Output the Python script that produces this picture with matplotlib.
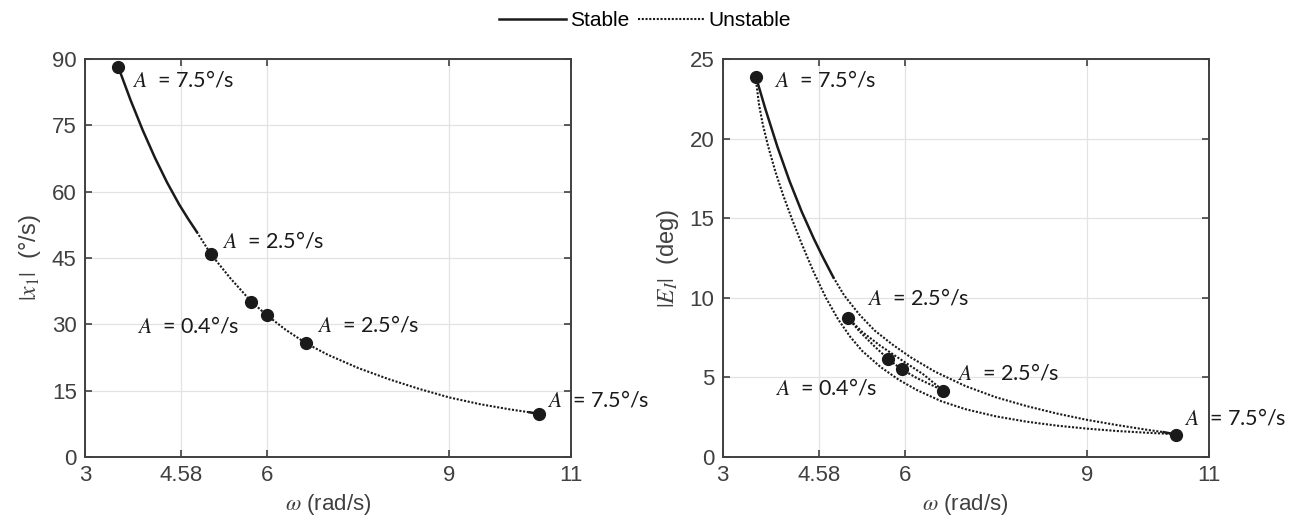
import matplotlib
matplotlib.use("Agg")
import matplotlib.pyplot as plt
from matplotlib.lines import Line2D

plt.rcParams['font.family'] = ['Liberation Sans', 'DejaVu Sans']
plt.rcParams['mathtext.fontset'] = 'stix'

# ---------------- data ----------------
# left panel: |x1| vs omega
w_x1_stable = [3.55, 3.75, 3.95, 4.15, 4.35, 4.55, 4.7, 4.84]
x1_stable = [88.1, 80.7, 73.9, 67.7, 62.1, 57.1, 53.8, 50.9]
w_x1_unstable = [4.84, 5.07, 5.4, 5.74, 5.99, 6.3, 6.64, 7.0, 7.5, 8.0, 8.5, 9.0, 9.5, 10.0, 10.32]
x1_unstable = [50.9, 45.9, 40.3, 35.1, 32.1, 28.8, 25.7, 23.1, 20.1, 17.6, 15.4, 13.45, 11.95, 10.75, 10.1]
w_x1_stable_end = [10.32, 10.47]
x1_stable_end = [10.1, 9.75]
w_x1_pts = [3.55, 5.07, 5.74, 5.99, 6.64, 10.47]
x1_pts = [88.1, 45.9, 35.1, 32.1, 25.7, 9.75]

# right panel: |E_I| vs omega
w_eu_stable = [3.55, 3.7, 3.9, 4.1, 4.3, 4.5, 4.65, 4.82]
eu_stable = [23.85, 21.9, 19.5, 17.34, 15.42, 13.72, 12.55, 11.3]
w_eu_unstable = [4.82, 5.0, 5.25, 5.5, 5.8, 6.1, 6.5, 7.0, 7.5, 8.0, 8.5, 9.0, 9.5, 10.0, 10.26]
eu_unstable = [11.3, 10.15, 8.95, 7.95, 7.05, 6.25, 5.35, 4.45, 3.75, 3.2, 2.73, 2.33, 2.0, 1.7, 1.56]
w_eu_stable_end = [10.26, 10.47]
eu_stable_end = [1.56, 1.41]
w_el = [3.55, 3.56, 3.6, 3.66, 3.75, 3.87, 4.0, 4.15, 4.3, 4.5, 4.7, 4.9, 5.1, 5.3, 5.6, 5.9,
        6.2, 6.6, 7.0, 7.5, 8.0, 8.5, 9.0, 9.5, 10.0, 10.26, 10.47]
el = [23.85, 23.3, 22.1, 20.9, 19.5, 17.9, 16.4, 14.85, 13.4, 11.6, 10.0, 8.65, 7.55, 6.65, 5.65, 4.85,
      4.2, 3.5, 3.0, 2.55, 2.22, 1.97, 1.78, 1.63, 1.52, 1.47, 1.41]
w_emu = [5.06, 5.3, 5.59, 5.98, 6.3, 6.63]
emu = [8.75, 7.85, 7.0, 6.0, 5.2, 4.17]
w_eml = [5.06, 5.25, 5.5, 5.73, 5.95, 6.2, 6.45, 6.63]
eml = [8.75, 7.9, 6.95, 6.13, 5.5, 4.95, 4.5, 4.17]
w_e_pts = [3.55, 5.06, 5.73, 5.95, 6.63, 10.47]
e_pts = [23.85, 8.75, 6.13, 5.5, 4.17, 1.41]

x_ticks = [3, 4.58, 6, 9, 11]
x_tick_labels = ['3', '4.58', '6', '9', '11']
y_ticks_left = [0, 15, 30, 45, 60, 75, 90]
y_ticks_right = [0, 5, 10, 15, 20, 25]

labels_left = [(3.78, 85.3, '7.5'), (5.25, 48.9, '2.5'), (3.85, 29.7, '0.4'),
               (6.82, 29.9, '2.5'), (10.61, 12.9, '7.5')]
labels_right = [(3.84, 23.7, '7.5'), (5.37, 10.0, '2.5'), (3.86, 4.35, '0.4'),
                (6.86, 5.3, '2.5'), (10.6, 2.45, '7.5')]

# ---------------- styling ----------------
c_line = '#1a1a1a'
c_axis = '#404040'
dot = (0, (1, 0.8))
fs = 16

fig = plt.figure(figsize=(12.9, 5.28), dpi=100)
ax1 = fig.add_axes([0.0659, 0.1345, 0.3767, 0.7538])
ax2 = fig.add_axes([0.5602, 0.1345, 0.3767, 0.7538])


def style_axis(ax, yticks):
    ax.set_xlim(3, 11)
    ax.set_ylim(yticks[0], yticks[-1])
    ax.set_xticks(x_ticks)
    ax.set_xticklabels(x_tick_labels)
    ax.set_yticks(yticks)
    ax.grid(True, color='#e3e3e3', lw=0.9)
    ax.set_axisbelow(True)
    for s in ax.spines.values():
        s.set_color(c_axis)
        s.set_linewidth(1.4)
    ax.tick_params(direction='in', length=5, width=1.2, colors=c_axis,
                   labelsize=fs, top=True, right=True, pad=6)
    ax.set_xlabel(r'$\omega$ (rad/s)', fontsize=fs, color=c_axis, labelpad=4)


def add_labels(ax, labels):
    for x, y, val in labels:
        ax.text(x, y, r'$A$' + f'  = {val}°/s', fontsize=15.5, color=c_line,
                family=['Lato', 'DejaVu Sans'], va='center', ha='left', clip_on=False)


# left panel
ax1.plot(w_x1_stable, x1_stable, '-', color=c_line, lw=1.8)
ax1.plot(w_x1_unstable, x1_unstable, linestyle=dot, color=c_line, lw=1.5)
ax1.plot(w_x1_stable_end, x1_stable_end, '-', color=c_line, lw=1.8)
ax1.plot(w_x1_pts, x1_pts, 'o', color=c_line, ms=8.5, zorder=5)
style_axis(ax1, y_ticks_left)
ax1.set_ylabel(r'$|x_1|$  (°/s)', fontsize=fs + 1, color=c_axis, labelpad=6)
add_labels(ax1, labels_left)

# right panel
ax2.plot(w_eu_stable, eu_stable, '-', color=c_line, lw=1.8)
ax2.plot(w_eu_unstable, eu_unstable, linestyle=dot, color=c_line, lw=1.5)
ax2.plot(w_eu_stable_end, eu_stable_end, '-', color=c_line, lw=1.8)
ax2.plot(w_el, el, linestyle=dot, color=c_line, lw=1.5)
ax2.plot(w_emu, emu, linestyle=dot, color=c_line, lw=1.5)
ax2.plot(w_eml, eml, linestyle=dot, color=c_line, lw=1.5)
ax2.plot(w_e_pts, e_pts, 'o', color=c_line, ms=8.5, zorder=5)
style_axis(ax2, y_ticks_right)
ax2.set_ylabel(r'$|E_I|$  (deg)', fontsize=fs + 1, color=c_axis, labelpad=6)
add_labels(ax2, labels_right)

handles = [Line2D([], [], color=c_line, lw=1.8, ls='-'),
           Line2D([], [], color=c_line, lw=1.5, ls=dot)]
fig.legend(handles, ['Stable', 'Unstable'], loc='upper center', bbox_to_anchor=(0.5, 1.015),
           ncol=2, frameon=False, fontsize=fs - 1, handlelength=3.2, handletextpad=0.2,
           columnspacing=0.4)

fig.savefig('out.png', dpi=100)
